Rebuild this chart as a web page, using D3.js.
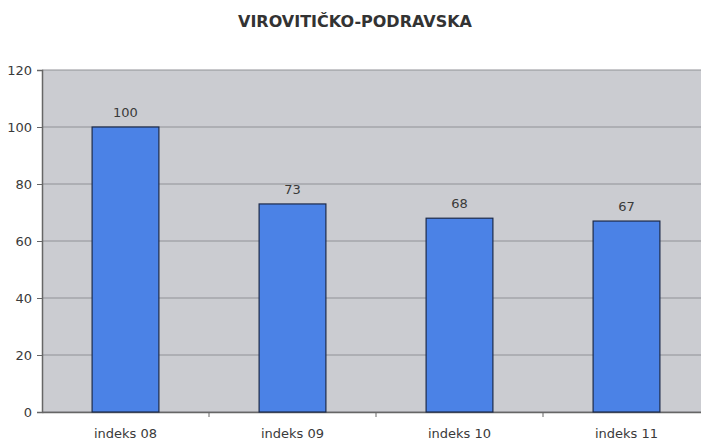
<!DOCTYPE html>
<html>
<head>
<meta charset="utf-8">
<script src="https://cdn.jsdelivr.net/npm/d3@7"></script>
<style>
  body { margin: 0; background: #fff; }
  text { font-family: "DejaVu Sans", sans-serif; }
</style>
</head>
<body>
<div id="chart"></div>
<script>
// data
var categories = ["indeks 08", "indeks 09", "indeks 10", "indeks 11"];
var values = [100, 73, 68, 67];
var yTicks = [0, 20, 40, 60, 80, 100, 120];
var title = "VIROVITIČKO-PODRAVSKA";

var margin = { top: 70, right: 0, bottom: 28, left: 42 },
    width = 668,
    height = 342;

var svg = d3.select("#chart")
    .append("svg")
    .attr("width", 701)
    .attr("height", 440);

svg.append("text")
    .attr("x", 238)
    .attr("y", 27)
    .attr("textLength", 234)
    .attr("lengthAdjust", "spacingAndGlyphs")
    .style("font-size", "15px")
    .style("font-weight", "bold")
    .style("fill", "#333")
    .text(title);

var g = svg.append("g")
    .attr("transform", "translate(" + margin.left + "," + margin.top + ")");

var x = d3.scaleBand()
    .domain(categories)
    .range([0, width])
    .paddingInner(0.6)
    .paddingOuter(0.3);

var y = d3.scaleLinear()
    .domain([0, 120])
    .range([height, 0]);

// plot background
g.append("rect")
    .attr("x", 0)
    .attr("y", 0)
    .attr("width", width)
    .attr("height", height)
    .attr("fill", "#cbccd1");

// grid lines
g.selectAll(".grid")
    .data(yTicks)
    .enter().append("line")
    .attr("x1", 0)
    .attr("x2", width)
    .attr("y1", function (d) { return y(d); })
    .attr("y2", function (d) { return y(d); })
    .attr("stroke", "#909196")
    .attr("stroke-width", 1);

// Y axis
var yAxis = g.append("g")
    .call(d3.axisLeft(y).tickValues(yTicks).tickSize(5).tickPadding(5));
yAxis.select(".domain").attr("stroke", "#666").attr("stroke-width", 1.5);
yAxis.selectAll(".tick line").attr("stroke", "#666");
yAxis.selectAll("text").style("font-size", "13px").style("fill", "#3a3a3a")
    .style("font-family", "'DejaVu Sans', sans-serif");

// X axis with ticks between categories
var xAxis = g.append("g")
    .attr("transform", "translate(0," + height + ")")
    .call(d3.axisBottom(x).tickSize(0).tickPadding(17));
xAxis.select(".domain").attr("stroke", "#666").attr("stroke-width", 1.5);
xAxis.selectAll("text").style("font-size", "13px").style("fill", "#3a3a3a")
    .style("font-family", "'DejaVu Sans', sans-serif");

g.selectAll(".sep")
    .data(categories.slice(1))
    .enter().append("line")
    .attr("x1", function (d) { return x(d) - x.step() * x.paddingInner() / 2; })
    .attr("x2", function (d) { return x(d) - x.step() * x.paddingInner() / 2; })
    .attr("y1", height)
    .attr("y2", height + 5)
    .attr("stroke", "#666");

// bars
g.selectAll(".bar")
    .data(values)
    .enter().append("rect")
    .attr("x", function (d, i) { return x(categories[i]); })
    .attr("y", function (d) { return y(d); })
    .attr("width", x.bandwidth())
    .attr("height", function (d) { return height - y(d); })
    .attr("fill", "#4b82e6")
    .attr("stroke", "#1c2a4a")
    .attr("stroke-width", 1.2);

// value labels
g.selectAll(".val")
    .data(values)
    .enter().append("text")
    .attr("x", function (d, i) { return x(categories[i]) + x.bandwidth() / 2; })
    .attr("y", function (d) { return y(d) - 10; })
    .attr("text-anchor", "middle")
    .style("font-size", "13px")
    .style("fill", "#3a3a3a")
    .text(function (d) { return d; });
</script>
</body>
</html>
